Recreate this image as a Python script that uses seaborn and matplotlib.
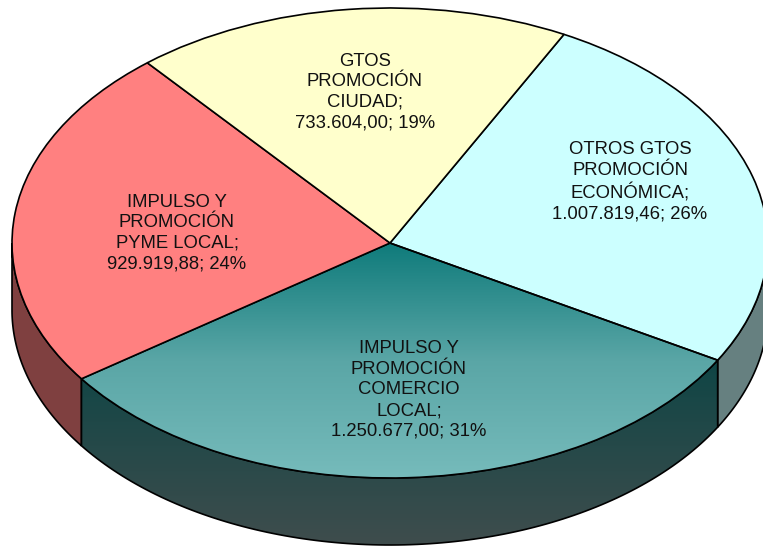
import numpy as np
import seaborn as sns
import matplotlib.pyplot as plt
from matplotlib.patches import Polygon

sns.set_theme(style='white')
plt.rcParams['font.family'] = ['Liberation Sans', 'DejaVu Sans']

names = ['OTROS GTOS\nPROMOCIÓN\nECONÓMICA;', 'IMPULSO Y\nPROMOCIÓN\nCOMERCIO\nLOCAL;',
         'IMPULSO Y\nPROMOCIÓN\nPYME LOCAL;', 'GTOS\nPROMOCIÓN\nCIUDAD;']
amounts = [1007819.46, 1250677.00, 929919.88, 733604.00]
amount_labels = ['1.007.819,46; 26%', '1.250.677,00; 31%', '929.919,88; 24%', '733.604,00; 19%']
top_colors = ['#CCFFFF', '#0F7B7B', '#FF8080', '#FFFFCC']
side_colors = ['#668080', '#0F4444', '#7F4040', '#808066']

# where things sit in the picture, in pixels
W, H = 763, 546
cx, cy, rx, ry = 390, 243, 378, 235
depth = 67 / ry
start = 62.6
label_px = [(630, 182), (409, 390), (177, 233), (365, 92)]


def to_data(px, py):
    return (px - cx) / rx, (cy - py) / ry


fig = plt.figure(figsize=(W / 100, H / 100), dpi=100)
ax = fig.add_axes([0, 0, 1, 1])

wedges, _ = ax.pie(amounts, colors=top_colors, startangle=start, counterclock=False,
                   wedgeprops={'edgecolor': 'black', 'linewidth': 1.2, 'zorder': 3})
x0, y1 = to_data(0, 0)
x1, y0 = to_data(W, H)
ax.set_aspect('auto')

# side wall of each slice, only the part of the rim that faces the viewer
fracs = np.array(amounts) / sum(amounts)
ends = start - np.cumsum(fracs) * 360
starts = np.r_[start, ends[:-1]]
for a_start, a_end, col in zip(starts, ends, side_colors):
    a_start, a_end = a_start % 360, a_end % 360
    if a_start == 0 or a_start < a_end:
        a_start += 360
    hi, lo = min(a_start, 360), max(a_end, 180)
    if hi <= lo:
        continue
    t = np.radians(np.linspace(lo, hi, 120))
    xs, ys = np.cos(t), np.sin(t)
    pts = np.r_[np.c_[xs, ys], np.c_[xs[::-1], ys[::-1] - depth]]
    ax.add_patch(Polygon(pts, closed=True, facecolor=col, edgecolor='black', linewidth=1.2, zorder=2))
    if col == '#0F4444':
        side_patch = ax.patches[-1]

# teal slice and its wall fade from top to bottom
grad = np.linspace(0, 1, 256).reshape(-1, 1)
top_cmap = sns.blend_palette(['#0F7B7B', '#5AA6A6', '#76BBBB'], as_cmap=True)
side_cmap = sns.blend_palette(['#0C4545', '#3F4D4D'], as_cmap=True)
im = ax.imshow(grad, cmap=top_cmap, aspect='auto', origin='upper', extent=(-1, 1, -1, 0), zorder=2.5)
im.set_clip_path(wedges[1])
wedges[1].set_facecolor('none')
im2 = ax.imshow(grad, cmap=side_cmap, aspect='auto', origin='upper',
                extent=(-1, 1, -1 - depth, -0.45), zorder=2.2)
im2.set_clip_path(side_patch)
side_patch.set_facecolor('none')
side_patch.set_zorder(2.3)
ax.set_xlim(x0, x1)
ax.set_ylim(y0, y1)

for name, amount, (px, py) in zip(names, amount_labels, label_px):
    tx, ty = to_data(px, py)
    ax.text(tx, ty, name + '\n' + amount, ha='center', va='center', fontsize=13.3,
            color='#111111', linespacing=1.27, zorder=5)

fig.savefig('out.png', dpi=100)
